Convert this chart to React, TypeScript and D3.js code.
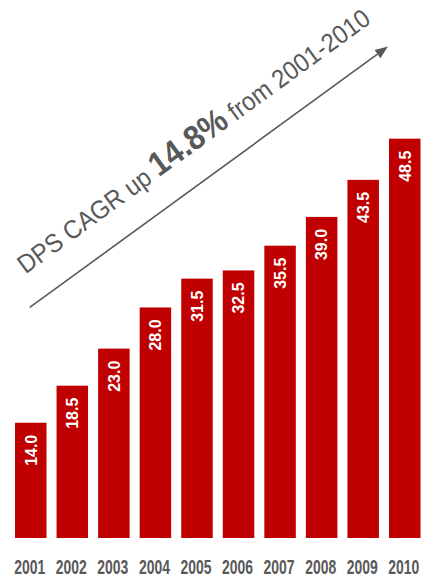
import React from "react";
import * as d3 from "d3";

const years = ["2001", "2002", "2003", "2004", "2005", "2006", "2007", "2008", "2009", "2010"];
const dps = [14.0, 18.5, 23.0, 28.0, 31.5, 32.5, 35.5, 39.0, 43.5, 48.5];
const valueLabels = ["14.0", "18.5", "23.0", "28.0", "31.5", "32.5", "35.5", "39.0", "43.5", "48.5"];
const titleParts = ["DPS CAGR up ", "14.8%", " from 2001-2010"];
// arrow endpoints in data terms: [year, value]
const arrowStart: [string, number] = ["2001", 28.0];
const arrowEnd: [string, number] = ["2010", 59.7];

const W = 424;
const H = 578;
const RED = "#C00000";
const GRAY = "#595959";

export default function App() {
  const x = d3.scaleBand<string>().domain(years).range([15, 420.5]).paddingInner(0.242).paddingOuter(0);
  const y = d3.scaleLinear().domain([0, 60]).range([538, 44]);
  const bw = x.bandwidth();

  const ax0 = (x(arrowStart[0]) as number) + bw / 2 - 1;
  const ay0 = y(arrowStart[1]);
  const ax1 = (x(arrowEnd[0]) as number) - 1;
  const ay1 = y(arrowEnd[1]);
  const ang = Math.atan2(ay1 - ay0, ax1 - ax0);
  const angDeg = (ang * 180) / Math.PI;
  const headLen = 13;
  const headW = 5;
  const bx = ax1 - headLen * Math.cos(ang);
  const by = ay1 - headLen * Math.sin(ang);
  const px = -Math.sin(ang);
  const py = Math.cos(ang);
  const head = `M${ax1},${ay1} L${bx + px * headW},${by + py * headW} L${bx - px * headW},${by - py * headW} Z`;

  // text baseline start: along-line offset + perpendicular (upward) offset from arrow start
  const along = 16;
  const perp = 29;
  const tx = ax0 + along * Math.cos(ang) + perp * Math.sin(ang);
  const ty = ay0 + along * Math.sin(ang) - perp * Math.cos(ang);

  const yearFont = 21;
  const yearScale = 31 / (0.556 * 4 * yearFont);

  return (
    <svg width={W} height={H} style={{ position: "absolute", left: 0, top: 0, background: "#fff" }}>
      <rect x={0} y={0} width={W} height={H} fill="#fff" />
      {years.map((yr, i) => {
        const bx0 = x(yr) as number;
        const top = y(dps[i]);
        return (
          <g key={yr}>
            <rect x={bx0} y={top} width={bw} height={y(0) - top} fill={RED} />
            <text
              transform={`translate(${bx0 + bw / 2},${top + 12}) rotate(-90)`}
              textAnchor="end"
              dy="0.36em"
              fill="#fff"
              fontFamily="'Liberation Sans', Arial, sans-serif"
              fontWeight="bold"
              fontSize={16}
            >
              {valueLabels[i]}
            </text>
            <text
              transform={`translate(${bx0 + bw / 2 - 1},573.5) scale(${yearScale},1)`}
              textAnchor="middle"
              fill={GRAY}
              fontFamily="'Liberation Sans', Arial, sans-serif"
              fontWeight="bold"
              fontSize={yearFont}
            >
              {yr}
            </text>
          </g>
        );
      })}
      <line x1={ax0} y1={ay0} x2={bx} y2={by} stroke={GRAY} strokeWidth={1.6} />
      <path d={head} fill={GRAY} />
      <text
        transform={`translate(${tx},${ty}) rotate(${angDeg}) scale(0.92,1)`}
        fill={GRAY}
        fontFamily="'Liberation Sans', Arial, sans-serif"
        fontSize={26}
      >
        <tspan>{titleParts[0]}</tspan>
        <tspan fontWeight="bold" fontSize={34}>{titleParts[1]}</tspan>
        <tspan>{titleParts[2]}</tspan>
      </text>
    </svg>
  );
}
